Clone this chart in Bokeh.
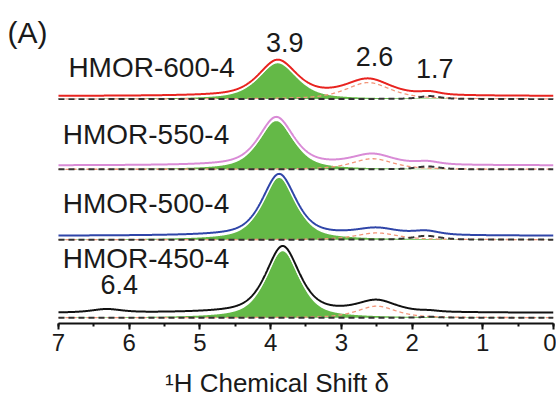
import numpy as np
from bokeh.plotting import figure
from bokeh.models import Range1d, Label, SingleIntervalTicker
from bokeh.embed import file_html
from bokeh.resources import INLINE

# ---- data (chemical shift in ppm, intensity in arbitrary units) ----
samples = ["HMOR-600-4", "HMOR-550-4", "HMOR-500-4", "HMOR-450-4"]
line_colors = ["#e8231f", "#d98bd6", "#2f45a8", "#111111"]
stack_offsets = [233, 160, 87, 6]          # vertical stacking of the spectra
curve_lift = [3, 4, 4, 5]                  # experimental curve above fitted components

# fitted component at ~3.9 ppm (green filled)
p39_center = [3.90, 3.92, 3.88, 3.83]
p39_height = [37, 50, 64, 69]
p39_fwhm = [0.64, 0.58, 0.56, 0.56]
# fitted component at ~2.6 ppm (orange dashed)
p26_center = [2.62, 2.56, 2.50, 2.50]
p26_height = [17, 11, 7, 12]
p26_fwhm = [0.75, 0.70, 0.70, 0.65]
# fitted component at ~1.7 ppm (dark dashed)
p17_center = [1.75, 1.78, 1.80, 1.75]
p17_height = [3, 3, 4, 1]
p17_fwhm = [0.35, 0.40, 0.45, 0.30]
# small signal at ~6.4 ppm (only in HMOR-450-4 spectrum)
p64_center = [6.32, 6.32, 6.32, 6.32]
p64_height = [0, 0, 0, 3.5]
p64_fwhm = [0.50, 0.50, 0.50, 0.50]

peak_labels = ["3.9", "2.6", "1.7", "6.4"]


def pv(x, c, h, w, eta=0.6):
    g = np.exp(-4 * np.log(2) * ((x - c) / w) ** 2)
    l = 1.0 / (1.0 + (2 * (x - c) / w) ** 2)
    return h * (eta * l + (1 - eta) * g)


x = np.linspace(7, 0, 1401)

p = figure(width=556, height=400, output_backend="svg", toolbar_location=None,
           x_range=Range1d(7.82, 0), y_range=Range1d(0, 330),
           y_axis_location=None, min_border_left=0, min_border_right=3,
           min_border_top=5, min_border_bottom=65)
p.outline_line_color = None
p.xgrid.visible = False
p.ygrid.visible = False
p.background_fill_color = "white"
p.border_fill_color = "white"

for i in range(4):
    base = stack_offsets[i]
    g39 = pv(x, p39_center[i], p39_height[i], p39_fwhm[i])
    g26 = pv(x, p26_center[i], p26_height[i], p26_fwhm[i])
    g17 = pv(x, p17_center[i], p17_height[i], p17_fwhm[i])
    g64 = pv(x, p64_center[i], p64_height[i], p64_fwhm[i])
    total = g39 + g26 + g17 + g64 + curve_lift[i]
    p.varea(x=x, y1=base, y2=base + g39, fill_color="#64b947")
    p.line(x, base + g26, line_color="#f2967a", line_width=1.3, line_dash="4 3")
    p.line(x, base + g17, line_color="#333333", line_width=2, line_dash="6 4")
    p.line(x, base + total, line_color="white", line_width=5)
    p.line(x, base + total, line_color=line_colors[i], line_width=2)

FONT = "Liberation Sans"
# sample names
name_pos = [(6.86, 266), (6.94, 196), (6.94, 125), (6.94, 67)]
for name, (lx, ly) in zip(samples, name_pos):
    p.add_layout(Label(x=lx, y=ly, text=name, text_font=FONT, text_font_size="28px",
                       text_align="left", text_baseline="alphabetic", text_color="#1a1a1a"))
# peak annotations
peak_pos = [(3.80, 292), (2.53, 277), (1.68, 265), (6.14, 40)]
for t, (lx, ly) in zip(peak_labels, peak_pos):
    p.add_layout(Label(x=lx, y=ly, text=t, text_font=FONT, text_font_size="27px",
                       text_align="center", text_baseline="alphabetic", text_color="#1a1a1a"))
p.add_layout(Label(x=7.72, y=302, text="(A)", text_font=FONT, text_font_size="30px",
                   text_align="left", text_baseline="alphabetic", text_color="#1a1a1a"))

ax = p.xaxis[0]
ax.bounds = (0, 7)
ax.ticker = SingleIntervalTicker(interval=1, num_minor_ticks=2)
ax.axis_line_width = 2
ax.axis_line_color = "#111111"
ax.major_tick_line_width = 2
ax.major_tick_line_color = "#111111"
ax.major_tick_out = 6
ax.major_tick_in = 0
ax.minor_tick_line_width = 2
ax.minor_tick_line_color = "#111111"
ax.minor_tick_out = 3
ax.minor_tick_in = 0
ax.major_label_text_font = FONT
ax.major_label_text_font_size = "24px"
ax.major_label_text_color = "#1a1a1a"
ax.major_label_standoff = 4
ax.axis_label = "\u00b9H Chemical Shift \u03b4"
ax.axis_label_text_font = FONT
ax.axis_label_text_font_size = "26px"
ax.axis_label_text_font_style = "normal"
ax.axis_label_text_color = "#1a1a1a"
ax.axis_label_standoff = 14

open("out.html", "w").write(file_html(p, INLINE))
